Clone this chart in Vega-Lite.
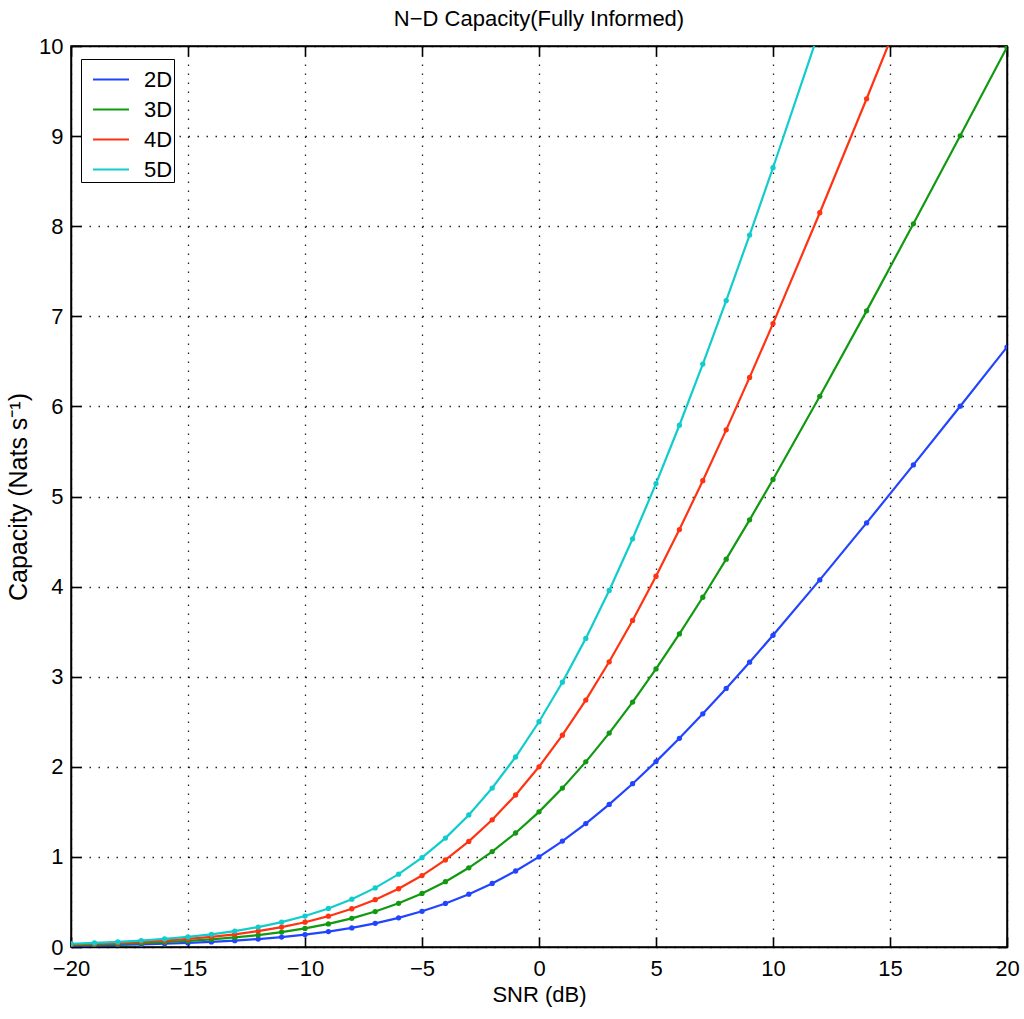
{
  "$schema": "https://vega.github.io/schema/vega-lite/v6.json",
  "width": 936,
  "height": 901,
  "autosize": {"type": "none"},
  "padding": {"left": 71, "top": 46, "right": 17, "bottom": 72},
  "background": "white",
  "title": {
    "text": "N−D Capacity(Fully Informed)",
    "font": "Liberation Sans",
    "fontSize": 22,
    "fontWeight": "normal",
    "color": "black",
    "anchor": "middle",
    "offset": 4
  },
  "config": {
    "view": {"stroke": "black", "strokeWidth": 1.5},
    "axis": {
      "labelFont": "Liberation Sans",
      "titleFont": "Liberation Sans",
      "labelFontSize": 22,
      "titleFontSize": 22,
      "titleFontWeight": "normal",
      "labelColor": "black",
      "titleColor": "black",
      "labelFlush": false,
      "domainColor": "black",
      "domainWidth": 1.5,
      "tickColor": "black",
      "tickWidth": 1.6,
      "tickSize": -10,
      "gridColor": "black",
      "gridDash": [1.5, 7.5],
      "gridWidth": 1.3,
      "gridOpacity": 0.85
    },
    "legend": {
      "labelFont": "Liberation Sans",
      "labelFontSize": 22,
      "labelColor": "black"
    }
  },
  "data": {
    "values": [
      {"snr": -20, "2D": 0.0144, "3D": 0.0215, "4D": 0.0287, "5D": 0.0359},
      {"snr": -19, "2D": 0.0180, "3D": 0.0271, "4D": 0.0361, "5D": 0.0451},
      {"snr": -18, "2D": 0.0227, "3D": 0.0340, "4D": 0.0454, "5D": 0.0567},
      {"snr": -17, "2D": 0.0285, "3D": 0.0428, "4D": 0.0570, "5D": 0.0713},
      {"snr": -16, "2D": 0.0358, "3D": 0.0537, "4D": 0.0716, "5D": 0.0895},
      {"snr": -15, "2D": 0.0449, "3D": 0.0674, "4D": 0.0898, "5D": 0.1123},
      {"snr": -14, "2D": 0.0563, "3D": 0.0845, "4D": 0.1126, "5D": 0.1408},
      {"snr": -13, "2D": 0.0706, "3D": 0.1058, "4D": 0.1411, "5D": 0.1764},
      {"snr": -12, "2D": 0.0883, "3D": 0.1324, "4D": 0.1766, "5D": 0.2207},
      {"snr": -11, "2D": 0.1103, "3D": 0.1654, "4D": 0.2206, "5D": 0.2757},
      {"snr": -10, "2D": 0.1375, "3D": 0.2063, "4D": 0.2750, "5D": 0.3438},
      {"snr": -9, "2D": 0.1711, "3D": 0.2566, "4D": 0.3421, "5D": 0.4277},
      {"snr": -8, "2D": 0.2122, "3D": 0.3184, "4D": 0.4245, "5D": 0.5306},
      {"snr": -7, "2D": 0.2625, "3D": 0.3937, "4D": 0.5249, "5D": 0.6562},
      {"snr": -6, "2D": 0.3233, "3D": 0.4849, "4D": 0.6466, "5D": 0.8082},
      {"snr": -5, "2D": 0.3964, "3D": 0.5946, "4D": 0.7928, "5D": 0.9910},
      {"snr": -4, "2D": 0.4834, "3D": 0.7251, "4D": 0.9669, "5D": 1.2086},
      {"snr": -3, "2D": 0.5861, "3D": 0.8792, "4D": 1.1722, "5D": 1.4653},
      {"snr": -2, "2D": 0.7057, "3D": 1.0586, "4D": 1.4114, "5D": 1.7643},
      {"snr": -1, "2D": 0.8434, "3D": 1.2652, "4D": 1.6869, "5D": 2.1086},
      {"snr": 0, "2D": 1.0000, "3D": 1.5000, "4D": 2.0000, "5D": 2.5000},
      {"snr": 1, "2D": 1.1756, "3D": 1.7635, "4D": 2.3513, "5D": 2.9391},
      {"snr": 2, "2D": 1.3701, "3D": 2.0551, "4D": 2.7402, "5D": 3.4252},
      {"snr": 3, "2D": 1.5827, "3D": 2.3740, "4D": 3.1654, "5D": 3.9567},
      {"snr": 4, "2D": 1.8122, "3D": 2.7184, "4D": 3.6245, "5D": 4.5306},
      {"snr": 5, "2D": 2.0574, "3D": 3.0861, "4D": 4.1147, "5D": 5.1434},
      {"snr": 6, "2D": 2.3165, "3D": 3.4747, "4D": 4.6329, "5D": 5.7911},
      {"snr": 7, "2D": 2.5878, "3D": 3.8817, "4D": 5.1756, "5D": 6.4695},
      {"snr": 8, "2D": 2.8698, "3D": 4.3047, "4D": 5.7396, "5D": 7.1745},
      {"snr": 9, "2D": 3.1608, "3D": 4.7412, "4D": 6.3216, "5D": 7.9020},
      {"snr": 10, "2D": 3.4594, "3D": 5.1891, "4D": 6.9189, "5D": 8.6486},
      {"snr": 12, "2D": 4.0746, "3D": 6.1119, "4D": 8.1492, "5D": 10.1865},
      {"snr": 14, "2D": 4.7070, "3D": 7.0605, "4D": 9.4141, "5D": 11.7676},
      {"snr": 16, "2D": 5.3509, "3D": 8.0263, "4D": 10.7018, "5D": 13.3772},
      {"snr": 18, "2D": 6.0022, "3D": 9.0032, "4D": 12.0043, "5D": 15.0054},
      {"snr": 20, "2D": 6.6582, "3D": 9.9873, "4D": 13.3164, "5D": 16.6455}
    ]
  },
  "transform": [
    {"fold": ["2D", "3D", "4D", "5D"], "as": ["series", "capacity"]}
  ],
  "layer": [
    {
      "mark": {"type": "line", "strokeWidth": 2.2, "clip": true},
      "encoding": {
        "x": {
          "field": "snr",
          "type": "quantitative",
          "scale": {"domain": [-20, 20], "nice": false, "zero": false},
          "axis": {
            "orient": "bottom",
            "values": [-20, -15, -10, -5, 0, 5, 10, 15, 20],
            "grid": true,
            "labelPadding": 21,
            "title": "SNR (dB)",
            "titlePadding": 5
          }
        },
        "y": {
          "field": "capacity",
          "type": "quantitative",
          "scale": {"domain": [0, 10], "nice": false},
          "axis": {
            "orient": "left",
            "values": [0, 1, 2, 3, 4, 5, 6, 7, 8, 9, 10],
            "grid": true,
            "labelPadding": 18,
            "title": "Capacity (Nats s⁻¹)",
            "titleFontSize": 25,
            "titlePadding": 7
          }
        },
        "color": {
          "field": "series",
          "type": "nominal",
          "scale": {
            "domain": ["2D", "3D", "4D", "5D"],
            "range": ["#2244ff", "#119911", "#ff3311", "#11cccc"]
          },
          "legend": {
            "title": null,
            "orient": "none",
            "legendX": 10,
            "legendY": 13,
            "strokeColor": "black",
            "fillColor": "white",
            "padding": 1.5,
            "symbolType": "stroke",
            "symbolSize": 1296,
            "symbolStrokeWidth": 2,
            "symbolOffset": 9.5,
            "labelOffset": 14,
            "rowPadding": -2
          }
        }
      }
    },
    {
      "mark": {"type": "circle", "size": 28, "opacity": 1, "clip": true},
      "encoding": {
        "x": {
          "field": "snr",
          "type": "quantitative",
          "axis": {
            "orient": "top",
            "values": [-20, -15, -10, -5, 0, 5, 10, 15, 20],
            "grid": false,
            "labels": false,
            "title": null
          }
        },
        "y": {
          "field": "capacity",
          "type": "quantitative",
          "axis": {
            "orient": "right",
            "values": [0, 1, 2, 3, 4, 5, 6, 7, 8, 9, 10],
            "grid": false,
            "labels": false,
            "title": null
          }
        },
        "color": {"field": "series", "type": "nominal", "legend": null}
      }
    }
  ],
  "resolve": {"axis": {"x": "independent", "y": "independent"}}
}
